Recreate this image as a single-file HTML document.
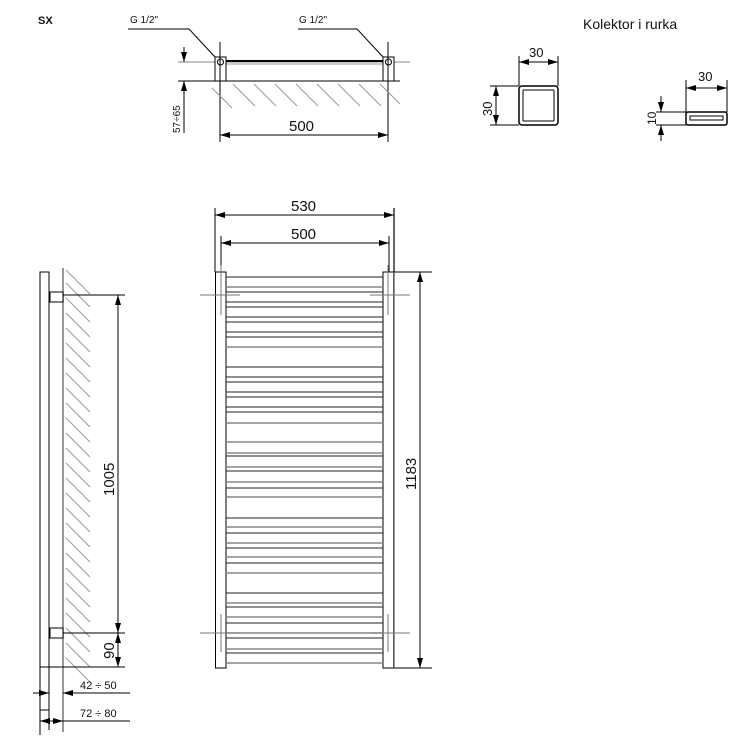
<!DOCTYPE html>
<html><head><meta charset="utf-8"><style>
html,body{margin:0;padding:0;background:#fff;}
svg{display:block;}
text{font-family:"Liberation Sans",sans-serif;fill:#111;}
</style></head><body>
<svg width="750" height="750" viewBox="0 0 750 750" xmlns="http://www.w3.org/2000/svg">
<defs>
<marker id="a" viewBox="0 0 10 6" refX="10" refY="3" markerWidth="10" markerHeight="6" orient="auto-start-reverse" markerUnits="userSpaceOnUse"><path d="M0,0L10,3L0,6z" fill="#000"/></marker>
</defs>
<g stroke="#000" fill="none" stroke-width="1">

<!-- TOP VIEW -->
<text x="38" y="24" font-size="11" font-weight="bold" stroke="none">SX</text>
<text x="130" y="23" font-size="10" stroke="none">G 1/2"</text>
<text x="299" y="23" font-size="10" stroke="none">G 1/2"</text>
<path d="M128 29H189L216 58" />
<path d="M298 29H357L384 58" />
<line x1="178" y1="62" x2="410" y2="62" stroke="#888"/>
<line x1="226" y1="61" x2="383" y2="61" stroke-width="2"/>
<line x1="226" y1="64" x2="383" y2="64" stroke="#999"/>
<line x1="178" y1="81" x2="400" y2="81" />
<rect x="215" y="57" width="11" height="24" fill="#fff"/>
<rect x="383" y="57" width="11" height="24" fill="#fff"/>
<circle cx="220.5" cy="62" r="3"/>
<circle cx="388.5" cy="62" r="3"/>
<line x1="220" y1="42" x2="220" y2="142"/>
<line x1="388" y1="42" x2="388" y2="142"/>
<g stroke="#999">
<path d="M212 88L232 108M233 84L255 106M254 84L276 106M275 84L297 106M296 84L318 106M317 84L339 106M338 84L360 106M359 84L381 106M380 84L400 104"/>
</g>
<line x1="184" y1="47" x2="184" y2="62" marker-end="url(#a)"/>
<line x1="184" y1="81" x2="184" y2="133" marker-start="url(#a)"/>
<text transform="translate(180,133) rotate(-90)" font-size="10" stroke="none">57÷65</text>
<line x1="220" y1="135" x2="388" y2="135" marker-start="url(#a)" marker-end="url(#a)"/>
<text x="289" y="131" font-size="15" stroke="none">500</text>

<!-- CROSS SECTIONS -->
<text x="583" y="29" font-size="14" stroke="none">Kolektor i rurka</text>
<rect x="519" y="86" width="39" height="39" rx="3" stroke-width="1.5"/>
<rect x="523" y="90" width="31" height="31" rx="1"/>
<line x1="519" y1="56" x2="519" y2="86"/>
<line x1="558" y1="56" x2="558" y2="86"/>
<line x1="519" y1="62" x2="558" y2="62" marker-start="url(#a)" marker-end="url(#a)"/>
<text x="529" y="57" font-size="13" stroke="none">30</text>
<line x1="490" y1="86" x2="519" y2="86"/>
<line x1="490" y1="125" x2="519" y2="125"/>
<line x1="496" y1="86" x2="496" y2="125" marker-start="url(#a)" marker-end="url(#a)"/>
<text transform="translate(492,116) rotate(-90)" font-size="13" stroke="none">30</text>
<rect x="686" y="112" width="41" height="13" rx="2" stroke-width="1.5"/>
<rect x="690" y="116" width="33" height="4"/>
<line x1="686" y1="80" x2="686" y2="112"/>
<line x1="727" y1="80" x2="727" y2="112"/>
<line x1="686" y1="88" x2="727" y2="88" marker-start="url(#a)" marker-end="url(#a)"/>
<text x="698" y="81" font-size="13" stroke="none">30</text>
<line x1="656" y1="112" x2="686" y2="112"/>
<line x1="656" y1="125" x2="686" y2="125"/>
<line x1="661" y1="96" x2="661" y2="112" marker-end="url(#a)"/>
<line x1="661" y1="125" x2="661" y2="141" marker-start="url(#a)"/>
<text transform="translate(656,125) rotate(-90)" font-size="12" stroke="none">10</text>

<!-- FRONT VIEW -->
<line x1="215" y1="208" x2="215" y2="272"/>
<line x1="394" y1="208" x2="394" y2="272" stroke-width="2" stroke="#666"/>
<line x1="221" y1="236" x2="221" y2="272"/>
<line x1="389" y1="236" x2="389" y2="272"/>
<line x1="215" y1="215" x2="394" y2="215" marker-start="url(#a)" marker-end="url(#a)"/>
<text x="291" y="211" font-size="15" stroke="none">530</text>
<line x1="221" y1="243" x2="389" y2="243" marker-start="url(#a)" marker-end="url(#a)"/>
<text x="291" y="239" font-size="15" stroke="none">500</text>
<rect x="215.5" y="272" width="10.5" height="396"/>
<rect x="383" y="272" width="10.5" height="396"/>
<line x1="394" y1="272" x2="394" y2="668" stroke="#777" stroke-width="1.5"/>
<g stroke="#222">
<path d="M226 277H383M226 292H383M226 302H383M226 307H383M226 317H383M226 322H383M226 332H383M226 337H383M226 367H383M226 377H383M226 382H383M226 392H383M226 397H383M226 407H383M226 412H383M226 456H383M226 471H383M226 488H383M226 518H383M226 533H383M226 548H383M226 563H383M226 593H383M226 607H383M226 623H383M226 638H383M226 653H383"/>
</g>
<g stroke="#888" stroke-width="1.5">
<path d="M226 287H383M226 347H383M226 423H383M226 442H383M226 453H383M226 467H383M226 482H383M226 497H383M226 527H383M226 543H383M226 557H383M226 573H383M226 603H383M226 617H383M226 633H383M226 649H383M226 663H383"/>
</g>
<g stroke="#777">
<line x1="200" y1="295" x2="240" y2="295"/><line x1="370" y1="295" x2="410" y2="295"/>
<line x1="200" y1="633" x2="240" y2="633"/><line x1="370" y1="633" x2="410" y2="633"/>
<line x1="221" y1="265" x2="221" y2="315"/><line x1="388" y1="265" x2="388" y2="315"/>
<line x1="221" y1="614" x2="221" y2="652"/><line x1="388" y1="614" x2="388" y2="652"/>
</g>
<line x1="394" y1="272" x2="432" y2="272"/>
<line x1="394" y1="668" x2="432" y2="668"/>
<line x1="420" y1="272" x2="420" y2="668" marker-start="url(#a)" marker-end="url(#a)"/>
<text transform="translate(416,490) rotate(-90)" font-size="15" stroke="none">1183</text>

<!-- SIDE VIEW -->
<rect x="40" y="272" width="9" height="438"/>
<line x1="63" y1="268" x2="63" y2="732" stroke="#777" stroke-width="1.5"/>
<g stroke="#999">
<path d="M66 270L90 294M66 283L90 307M66 298L90 322M66 313L90 337M66 328L90 352M66 343L90 367M66 358L90 382M66 373L90 397M66 388L90 412M66 403L90 427M66 418L90 442M66 433L90 457M66 448L90 472M66 463L90 487M66 478L90 502M66 493L90 517M66 508L90 532M66 523L90 547M66 538L90 562M66 553L90 577M66 568L90 592M66 583L90 607M66 598L90 622M66 613L90 637M66 628L90 652M66 643L90 667M66 658L90 682"/>
</g>
<rect x="50" y="292" width="13" height="10" fill="#fff"/>
<rect x="50" y="628" width="13" height="10" fill="#fff"/>
<line x1="63" y1="295" x2="125" y2="295"/>
<line x1="63" y1="633" x2="125" y2="633"/>
<line x1="40" y1="667" x2="125" y2="667"/>
<line x1="118" y1="295" x2="118" y2="633" marker-start="url(#a)" marker-end="url(#a)"/>
<line x1="118" y1="633" x2="118" y2="667" marker-start="url(#a)" marker-end="url(#a)"/>
<text transform="translate(114,496) rotate(-90)" font-size="15" stroke="none">1005</text>
<text transform="translate(114,659) rotate(-90)" font-size="15" stroke="none">90</text>
<line x1="40" y1="710" x2="40" y2="735"/>
<line x1="49" y1="700" x2="49" y2="730"/>
<line x1="33" y1="693" x2="49" y2="693" marker-end="url(#a)"/>
<line x1="63" y1="693" x2="130" y2="693" marker-start="url(#a)"/>
<text x="80" y="689" font-size="11" stroke="none">42 ÷ 50</text>
<line x1="40" y1="721" x2="63" y2="721" marker-start="url(#a)" marker-end="url(#a)"/>
<line x1="63" y1="721" x2="130" y2="721"/>
<text x="80" y="717" font-size="11" stroke="none">72 ÷ 80</text>
</g>
</svg>
</body></html>
